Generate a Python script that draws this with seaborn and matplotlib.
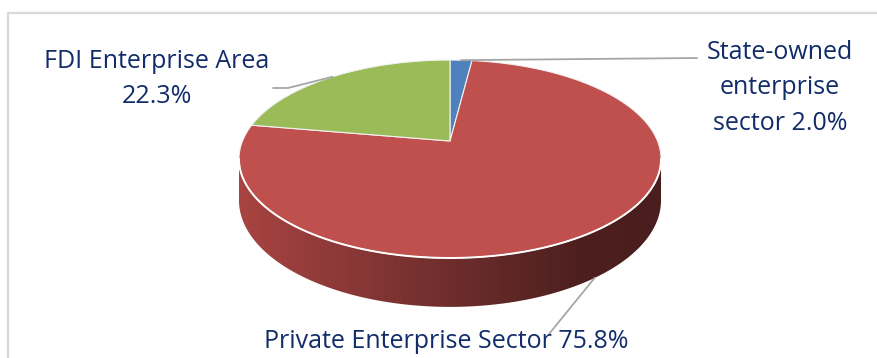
import numpy as np
import matplotlib
matplotlib.use("Agg")
import matplotlib.pyplot as plt
from matplotlib.patches import Polygon
from matplotlib.lines import Line2D
import seaborn as sns

# Share of each sector (%), in slice order: clockwise from 12 o'clock
sector_names = ["State-owned\nenterprise\nsector", "Private Enterprise Sector", "FDI Enterprise Area"]
shares = [2.0, 75.8, 22.3]
name_value_sep = [" ", " ", "\n"]
slice_colors = ["#4F81BD", "#C0504D", "#9BBB59"]

sns.set_theme(style="white")
plt.rcParams["font.family"] = ["Open Sans", "DejaVu Sans"]
palette = sns.color_palette(slice_colors)
TEXT_COLOR = "#112C69"
LEADER_COLOR = "#A6A6A6"

# Canvas geometry of the tilted pie (pixels)
CX, CY = 450.0, 141.0      # apex of the slices
SX, SY = 207.5, 95.7       # horizontal / vertical radius scale
K = 0.182                  # perspective foreshortening of the far half
DEPTH = 40.0               # thickness of the disc


def project(theta_deg, r=1.0, drop=0.0):
    """Map a pie angle (deg, clockwise from top) to canvas pixels."""
    t = np.radians(theta_deg)
    X, Y = r * np.sin(t), r * np.cos(t)
    w = 1 + K * Y
    return CX + SX * X / w, CY - SY * Y / w + drop * DEPTH / w


fig = plt.figure(figsize=(8.77, 3.58), dpi=100)
ax = fig.add_axes([0, 0, 1, 1])
ax.set_xlim(0, 877)
ax.set_ylim(358, 0)
ax.axis("off")

# chart-area frame (left and top edges show)
fig.add_artist(Line2D([7.5 / 877, 7.5 / 877], [0, 1 - 12.5 / 358],
                      color="#D9D9D9", lw=1.6, transform=fig.transFigure))
fig.add_artist(Line2D([7.5 / 877, 1], [1 - 12.5 / 358, 1 - 12.5 / 358],
                      color="#D9D9D9", lw=1.6, transform=fig.transFigure))

total = sum(shares)
edges = np.concatenate([[0.0], np.cumsum(shares)]) / total * 360.0
mids = (edges[:-1] + edges[1:]) / 2

# --- side wall (front half of the rim) with a left-to-right shading ---
th_left = 360 - np.degrees(np.arccos(-K))
th_right = np.degrees(np.arccos(-K))
front = np.linspace(th_right, th_left, 200)
tx, ty = project(front)
bx, by = project(front[::-1], drop=1.0)
side_pts = np.column_stack([np.concatenate([tx, bx]), np.concatenate([ty, by])])
side_patch = Polygon(side_pts, closed=True, facecolor="none", edgecolor="none")
ax.add_patch(side_patch)

stops = np.array([0.0, 0.45, 0.8, 1.0])
stop_cols = np.array([[168, 68, 65], [116, 47, 47], [78, 31, 31], [74, 30, 30]]) / 255
gx = np.linspace(0, 1, 400)
grad = np.stack([np.interp(gx, stops, stop_cols[:, c]) for c in range(3)], axis=-1)[None, :, :]
x0, x1 = side_pts[:, 0].min(), side_pts[:, 0].max()
y0, y1 = side_pts[:, 1].min(), side_pts[:, 1].max()
img = ax.imshow(grad, extent=[x0, x1, y1, y0], aspect="auto", zorder=1,
                interpolation="bilinear")
img.set_clip_path(side_patch)

# --- top face: one wedge per sector ---
for (a0, a1), col in zip(zip(edges[:-1], edges[1:]), palette):
    arc = np.linspace(a0, a1, max(int(a1 - a0) * 2, 4))
    px, py = project(arc)
    pts = np.column_stack([np.concatenate([[CX], px]), np.concatenate([[CY], py])])
    ax.add_patch(Polygon(pts, closed=True, facecolor=col, edgecolor="#F2F2F2",
                         lw=0.8, zorder=2, joinstyle="round"))

# highlight along the front rim of the top face
hx, hy = project(front)
ax.plot(hx, hy, color="white", lw=1.4, zorder=3, solid_capstyle="round")

# --- leader lines ---
bx0, by0 = project(mids[0])
ax.plot([bx0, 697], [by0, 58], color=LEADER_COLOR, lw=1.3, zorder=4)
gx0, gy0 = project(mids[2])
ax.plot([gx0, 288, 273], [gy0, 88, 88], color=LEADER_COLOR, lw=1.3, zorder=4)
rx0, ry0 = project(mids[1], drop=1.0)
ax.plot([rx0, 549], [ry0, 334], color=LEADER_COLOR, lw=1.3, zorder=4)

# --- data labels ---
labels = [f"{n}{s}{v:.1f}%" for n, s, v in zip(sector_names, name_value_sep, shares)]
FS = 18
ax.text(780, 88, labels[0], ha="center", va="center", multialignment="center",
        fontsize=FS, color=TEXT_COLOR, linespacing=1.55, zorder=5)
ax.text(446, 348, labels[1], ha="center", va="baseline",
        fontsize=FS, color=TEXT_COLOR, zorder=5)
ax.text(157, 79, labels[2], ha="center", va="center", multialignment="center",
        fontsize=FS, color=TEXT_COLOR, linespacing=1.55, zorder=5)

fig.savefig("out.png", dpi=100, facecolor="white")
